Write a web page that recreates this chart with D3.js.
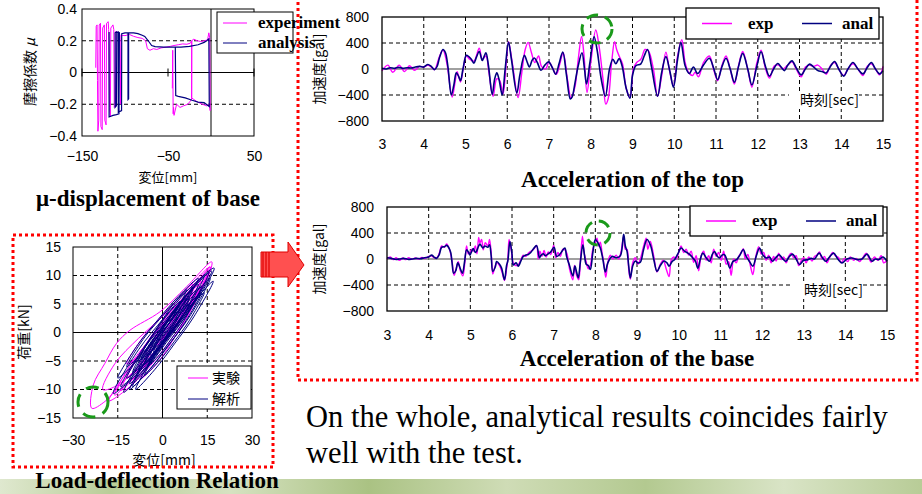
<!DOCTYPE html>
<html>
<head>
<meta charset="utf-8">
<script src="https://cdn.jsdelivr.net/npm/d3@7"></script>
<style>
  body { margin: 0; background: #fff; }
  svg { display: block; }
</style>
</head>
<body>
<script>
// ---------- data ----------
// friction coefficient vs base displacement [mm, mu]
const muExp = [
  [-134,0.03],[-133.5,0.29],[-132.5,0.3],[-132,-0.05],[-131.5,-0.37],[-130.5,-0.3],[-130,0.3],[-128.5,0.31],
  [-128,-0.34],[-126.5,-0.36],[-126,0.28],[-124,0.3],[-123.5,-0.3],[-122,-0.33],[-121.5,0.31],[-119.5,0.32],
  [-119,0.27],[-118,-0.22],[-117,-0.28],[-116.5,0.28],[-114,0.3],[-113,0.27],[-112.5,-0.22],[-111,-0.21],
  [-110.5,0.26],[-108,0.25],[-106,0.24],[-105,-0.2],[-104.5,0.235],[-100,0.232],[-95,0.24],[-90,0.228],
  [-85,0.22],[-80,0.215],[-76,0.2],[-74,0.15],[-71,0.14],[-67,0.15],[-63,0.145],[-58,0.155],[-52,0.16],
  [-47,0.165],[-43,0.17],[-38,0.175],[-33,0.18],[-28,0.178],[-24,0.185],[-22.5,0.2],[-20,0.21],[-16,0.2],
  [-12,0.195],[-8,0.2],[-4,0.205],[-2.5,0.25],[-1.5,0.22],[-1,-0.24],[-2,-0.2],[-5,-0.21],[-10,-0.2],
  [-16,-0.185],[-20,-0.17],[-22.4,-0.16],[-22.4,0.2],[-22.6,-0.17],[-27,-0.2],[-32,-0.21],[-36,-0.22],
  [-40,-0.2],[-43,-0.27],[-43.5,-0.22],[-44,-0.26],[-44.5,0.14],[-45,-0.1]
];
const muAnal = [
  [-118.5,0.255],[-118.5,-0.28],[-114,-0.27],[-110,-0.265],[-107,-0.26],[-106.5,0.25],[-110,0.255],
  [-111.5,0.25],[-111.5,-0.22],[-110,-0.21],[-109.5,0.25],[-107.8,0.255],[-107.8,-0.25],[-104,-0.24],
  [-103.8,0.245],[-100,0.25],[-96.5,0.25],[-96.5,-0.17],[-95.8,-0.165],[-95.8,0.25],[-90,0.25],[-85,0.245],
  [-80,0.235],[-77,0.227],[-73,0.2],[-69,0.17],[-65,0.163],[-55,0.16],[-45,0.16],[-35,0.16],[-25,0.165],
  [-15,0.175],[-8,0.19],[-5,0.2],[-2.5,0.212],[-2,-0.214],[-8,-0.19],[-15,-0.187],[-22,-0.175],[-30,-0.16],
  [-38,-0.15],[-41,-0.145],[-41.5,0.16]
];
const muXTicks = [-150, -50, 50];
const muYTicks = [-0.4, -0.2, 0, 0.2, 0.4];

// load-deflection loops [mm, kN]
const loadExp = [
  [[-23.7,-13.3],[-23.2,-9.2],[-19.3,-5.4],[-15.4,-1.9],[-10.9,0.4],[-0.8,3.65],[8,8],[16.5,12.4],[15,9.5],[8,4.5],[0,-1],[-8,-6],[-14.2,-9.2],[-19.3,-12.1]],
  [[-20,-10],[-16,-5.5],[-8,-1],[0,2.8],[8,7.5],[16,11.5],[13,7.5],[6,3],[-2,-2],[-10,-7],[-16,-9.5]],
  [[-14,-10.2],[-8,-4],[0,2],[7.5,6.5],[15.5,11],[9,4.5],[1,-1.5],[-7,-6.5]],
  [[-12,-8],[-6,-2.6],[0.5,1.8],[7,5.8],[13,9.5],[7,3.3],[0.5,-1.6],[-6,-5.5]],
  [[-9,-7],[-4,-2.2],[1,1.6],[6,5],[11,8.5],[6,2.8],[1,-1],[-4,-4.6]],
  [[-6,-5],[-2.5,-1.2],[1,1.3],[4.5,3.8],[8,6],[4.5,2],[1,-0.6],[-2.5,-3.2]],
  [[-16,-11],[-10,-5],[-2,0],[5,4.5],[12,7],[6,2],[-2,-3.5],[-10,-8]],
  [[-10,-9],[-4,-3.3],[2.5,1.5],[9,6],[15,10],[9,3.5],[2.5,-1.5],[-4,-5.8]],
  [[-12,-5.5],[-6.5,-0.8],[-1,2.5],[4.5,5.5],[10,8.5],[4.5,3.2],[-1,-0.5],[-6.5,-3.5]],
  [[-7,-8],[-1.5,-2.6],[4.5,2.8],[10,7.5],[16,11.5],[10,4.4],[4.5,-0.5],[-1.5,-5.2]],
  [[-18,-12],[-10,-5.5],[-2,0.5],[6,5.5],[14,9],[6,2.5],[-2,-3],[-10,-9]]
];
const loadAnal = [
  [[-16.5,-10.7],[-8,-3],[0.4,2.5],[8.8,7.6],[17.3,11.3],[8.8,3.6],[0.4,-1.9],[-8,-7]],
  [[-13,-10.5],[-5.9,-3.4],[1.2,1.8],[8.4,6.7],[15.5,10.5],[8.4,3.4],[1.2,-1.8],[-5.9,-6.7]],
  [[-11,-9],[-4.75,-2.65],[1.5,2.1],[7.75,6.5],[14,10],[7.75,3.65],[1.5,-1.1],[-4.75,-5.5]],
  [[-9,-8],[-3.75,-2.4],[1.5,1.75],[6.75,5.6],[12,8.5],[6.75,2.9],[1.5,-1.25],[-3.75,-5.1]],
  [[-8,-6.5],[-3.5,-1.7],[1,1.8],[5.5,5],[10,7.5],[5.5,2.7],[1,-0.8],[-3.5,-4]],
  [[-6,-5.5],[-2.5,-1.4],[1,1.45],[4.5,4.1],[8,6],[4.5,1.9],[1,-0.95],[-2.5,-3.6]],
  [[-12,-8],[-5.75,-2.5],[0.5,1.5],[6.75,5.2],[13,8],[6.75,2.5],[0.5,-1.5],[-5.75,-5.2]],
  [[-10,-9.5],[-3.5,-3.15],[3,1.6],[9.5,6],[16,9.5],[9.5,3.15],[3,-1.6],[-3.5,-6]],
  [[-4,-4],[-1.5,-0.9],[1,1.25],[3.5,3.2],[6,4.5],[3.5,1.4],[1,-0.75],[-1.5,-2.7]],
  [[-7,-4.5],[-3,-1],[1,1.35],[5,3.5],[9,5],[5,1.5],[1,-0.85],[-3,-3]],
  [[-14,-9.5],[-6.4,-2.7],[1.25,2.35],[8.9,7.1],[16.5,10.8],[8.9,4],[1.25,-1.05],[-6.4,-5.8]],
  [[-15,-8],[-8.25,-2.1],[-1.5,2.25],[5.25,6.3],[12,9.5],[5.25,3.6],[-1.5,-0.75],[-8.25,-4.8]],
  [[-9,-10],[-2.5,-3.75],[4,1],[10.5,5.45],[17,9],[10.5,2.75],[4,-2],[-2.5,-6.45]],
  [[-12,-6],[-6.5,-1.2],[-1,2.3],[4.5,5.5],[10,8],[4.5,3.2],[-1,-0.3],[-6.5,-3.5]],
  [[-6,-7.5],[-1,-2.6],[4,1.05],[9,4.4],[14,7],[9,2.1],[4,-1.55],[-1,-4.9]],
  [[-10,-7],[-5.5,-2.2],[-1,1.45],[3.5,4.9],[8,7.5],[3.5,2.7],[-1,-0.95],[-5.5,-4.4]],
  [[-5,-6],[-1,-1.9],[3,1.1],[7,3.9],[11,6],[7,1.9],[3,-1.1],[-1,-3.9]],
  [[-8,-5],[-4.5,-1.4],[-1,1.25],[2.5,3.7],[6,5.5],[2.5,1.9],[-1,-0.75],[-4.5,-3.2]],
  [[-3,-3.5],[0,-0.1],[3,2.25],[6,4.4],[9,6],[6,2.6],[3,0.25],[0,-1.9]],
  [[-11,-10],[-5,-4.35],[1,-0.1],[7,3.9],[13,7],[7,1.35],[1,-2.9],[-5,-6.9]]
];
const loadXTicks = [-30, -15, 0, 15, 30];
const loadYTicks = [-15, -10, -5, 0, 5, 10, 15];

// acceleration of the top [sec, gal]
const topExp = [
  [3,-30],[3.14,60],[3.26,-50],[3.41,60],[3.54,-40],[3.66,50],[3.78,-20],[3.9,40],[4,30],[4.1,60],[4.2,20],
  [4.26,-10],[4.38,200],[4.46,290],[4.55,100],[4.68,-430],[4.75,-200],[4.8,-40],[4.88,-200],[4.95,20],
  [5.02,200],[5.1,150],[5.2,120],[5.33,320],[5.4,150],[5.49,200],[5.56,-50],[5.66,-420],[5.75,-150],
  [5.82,-180],[5.9,-380],[5.97,50],[6.03,420],[6.12,100],[6.26,-440],[6.35,-50],[6.43,300],[6.5,410],
  [6.58,250],[6.66,100],[6.75,200],[6.82,40],[6.92,0],[7,110],[7.08,20],[7.18,-80],[7.26,80],[7.34,250],
  [7.44,-150],[7.53,-450],[7.62,-280],[7.7,150],[7.78,500],[7.84,200],[7.91,-360],[8,100],[8.12,600],
  [8.2,350],[8.3,-200],[8.36,-540],[8.42,-450],[8.5,100],[8.57,420],[8.62,300],[8.68,200],[8.76,80],
  [8.85,-300],[8.94,-440],[9.02,0],[9.1,100],[9.2,150],[9.3,300],[9.38,280],[9.5,0],[9.6,-420],[9.7,-100],
  [9.8,260],[9.88,0],[9.98,-260],[10.08,200],[10.18,450],[10.26,100],[10.34,-50],[10.44,-100],[10.5,-50],
  [10.58,-120],[10.7,100],[10.84,200],[10.94,0],[11.04,-180],[11.14,50],[11.24,200],[11.34,0],[11.44,-230],
  [11.54,50],[11.64,270],[11.76,0],[11.86,-280],[11.98,100],[12.08,290],[12.18,20],[12.28,-140],[12.4,50],
  [12.5,60],[12.6,0],[12.7,50],[12.82,110],[12.92,0],[13.04,-120],[13.14,30],[13.24,60],[13.34,40],
  [13.44,60],[13.54,0],[13.64,-80],[13.74,50],[13.84,100],[13.94,0],[14.06,-100],[14.16,0],[14.28,80],
  [14.4,0],[14.52,-100],[14.62,40],[14.72,80],[14.82,0],[14.92,-90],[15,40]
];
const topAnal = [
  [3,10],[3.1,0],[3.2,20],[3.3,10],[3.4,25],[3.5,10],[3.6,20],[3.7,15],[3.8,30],[3.9,40],[4,30],[4.1,70],
  [4.18,40],[4.26,-10],[4.32,40],[4.38,180],[4.46,300],[4.52,250],[4.58,30],[4.66,-400],[4.72,-250],
  [4.78,-60],[4.84,-120],[4.88,-180],[4.94,0],[5.02,210],[5.08,190],[5.14,150],[5.2,90],[5.26,180],
  [5.33,270],[5.4,130],[5.45,200],[5.49,250],[5.55,50],[5.64,-390],[5.7,-150],[5.75,-60],[5.8,-150],
  [5.88,-400],[5.95,0],[6.03,410],[6.1,150],[6.23,-370],[6.3,-100],[6.41,210],[6.47,120],[6.53,30],
  [6.6,140],[6.65,170],[6.72,100],[6.81,-20],[6.9,60],[6.99,110],[7.08,20],[7.16,-80],[7.24,80],[7.33,260],
  [7.42,-100],[7.51,-460],[7.56,-420],[7.61,-260],[7.7,50],[7.79,250],[7.85,0],[7.9,-230],[7.98,100],
  [8.08,495],[8.15,300],[8.25,-150],[8.35,-420],[8.45,0],[8.53,150],[8.6,80],[8.68,160],[8.75,50],
  [8.85,-300],[8.94,-450],[9,-100],[9.08,50],[9.2,80],[9.28,200],[9.36,300],[9.45,50],[9.6,-420],[9.7,-50],
  [9.8,190],[9.9,-50],[9.98,-280],[10.08,150],[10.16,410],[10.26,50],[10.36,-70],[10.46,30],[10.56,-70],
  [10.7,60],[10.84,165],[10.94,20],[11.04,-165],[11.14,30],[11.24,165],[11.34,0],[11.44,-205],[11.54,40],
  [11.64,240],[11.76,0],[11.86,-245],[11.98,50],[12.08,265],[12.18,50],[12.28,-110],[12.38,0],[12.48,85],
  [12.56,30],[12.64,-25],[12.72,60],[12.82,125],[12.92,20],[13.04,-90],[13.14,0],[13.24,75],[13.34,30],
  [13.44,-25],[13.54,-40],[13.64,-60],[13.74,40],[13.84,115],[13.94,0],[14.06,-110],[14.16,0],[14.28,100],
  [14.4,0],[14.52,-75],[14.62,20],[14.72,100],[14.82,0],[14.92,-75],[15,-25]
];

// acceleration of the base [sec, gal]
const baseExp = [
  [3,0],[3.08,30],[3.15,-10],[3.22,20],[3.3,-20],[3.38,15],[3.45,-10],[3.52,20],[3.6,-5],[3.68,15],[3.76,0],
  [3.84,25],[3.92,10],[4,40],[4.07,50],[4.13,20],[4.2,20],[4.26,100],[4.31,200],[4.38,180],[4.43,230],
  [4.5,150],[4.56,-30],[4.61,-250],[4.66,-150],[4.71,-40],[4.76,-180],[4.82,-260],[4.87,-40],[4.91,200],
  [4.95,80],[4.99,100],[5.04,150],[5.07,120],[5.12,200],[5.16,80],[5.2,330],[5.23,250],[5.27,300],
  [5.31,140],[5.36,250],[5.42,200],[5.46,300],[5.5,100],[5.54,-230],[5.6,-100],[5.64,-60],[5.7,-100],
  [5.76,-200],[5.82,-330],[5.87,-150],[5.9,0],[5.93,300],[5.98,150],[6.03,-60],[6.09,-100],[6.15,-90],
  [6.22,0],[6.27,60],[6.33,40],[6.39,90],[6.45,120],[6.52,150],[6.59,210],[6.63,0],[6.67,120],[6.72,40],
  [6.77,130],[6.82,30],[6.87,110],[6.93,70],[7,210],[7.05,20],[7.1,100],[7.16,40],[7.22,150],[7.27,140],
  [7.32,80],[7.38,-150],[7.46,-320],[7.5,-100],[7.55,-250],[7.6,-320],[7.64,-50],[7.69,350],[7.73,100],
  [7.78,-40],[7.83,-150],[7.88,-100],[7.94,150],[8,260],[8.04,320],[8.08,200],[8.12,260],[8.16,100],
  [8.2,-50],[8.25,-280],[8.3,-50],[8.36,60],[8.42,0],[8.5,60],[8.56,0],[8.62,120],[8.68,350],[8.72,150],
  [8.76,150],[8.8,-150],[8.84,-310],[8.9,-50],[8.96,20],[9.02,-80],[9.08,0],[9.16,200],[9.22,320],
  [9.26,150],[9.32,270],[9.4,50],[9.48,-200],[9.56,-80],[9.63,-20],[9.7,-150],[9.77,-270],[9.82,-20],
  [9.88,30],[9.94,0],[10,100],[10.06,200],[10.12,100],[10.18,150],[10.24,60],[10.3,120],[10.36,-50],
  [10.42,50],[10.48,-180],[10.54,50],[10.6,120],[10.66,-20],[10.72,50],[10.78,-60],[10.84,150],[10.9,40],
  [10.96,100],[11.02,-20],[11.08,120],[11.14,-80],[11.2,-40],[11.26,-250],[11.32,0],[11.38,-60],[11.44,40],
  [11.5,100],[11.55,160],[11.6,0],[11.66,70],[11.72,-100],[11.78,-240],[11.84,0],[11.92,190],[11.98,80],
  [12.04,100],[12.1,-20],[12.16,60],[12.22,-60],[12.28,40],[12.34,-30],[12.4,90],[12.46,-10],[12.52,30],
  [12.58,-60],[12.64,40],[12.7,90],[12.76,20],[12.82,50],[12.88,-100],[12.94,-30],[13,20],[13.06,-60],
  [13.12,30],[13.2,-30],[13.26,40],[13.32,60],[13.38,110],[13.44,0],[13.5,40],[13.56,-60],[13.62,20],
  [13.7,100],[13.76,50],[13.84,20],[13.9,-60],[13.98,10],[14.06,-40],[14.12,30],[14.2,-20],[14.26,10],
  [14.34,-40],[14.42,20],[14.5,90],[14.56,20],[14.62,-50],[14.7,30],[14.78,-20],[14.86,50],[14.92,-60],[15,-20]
];
const baseAnal = [
  [3,20],[3.1,10],[3.2,-5],[3.3,0],[3.4,10],[3.5,-5],[3.6,0],[3.7,10],[3.8,5],[3.9,20],[4,30],[4.07,60],
  [4.13,30],[4.19,10],[4.25,60],[4.31,180],[4.38,190],[4.43,210],[4.52,120],[4.56,-50],[4.6,-220],
  [4.65,-180],[4.7,-60],[4.76,-150],[4.81,-220],[4.86,-50],[4.91,140],[4.96,100],[4.99,60],[5.04,130],
  [5.07,160],[5.12,100],[5.15,120],[5.2,200],[5.23,230],[5.3,170],[5.35,200],[5.42,180],[5.46,220],
  [5.5,50],[5.54,-190],[5.6,-120],[5.63,-40],[5.7,-80],[5.75,-140],[5.82,-320],[5.87,-100],[5.9,-30],
  [5.95,270],[6,80],[6.03,-90],[6.1,-60],[6.15,-110],[6.22,-20],[6.27,40],[6.33,60],[6.39,70],[6.45,100],
  [6.52,160],[6.59,205],[6.66,20],[6.7,60],[6.75,80],[6.8,50],[6.87,80],[6.93,110],[7.01,180],[7.07,40],
  [7.13,60],[7.2,120],[7.27,170],[7.31,40],[7.38,-100],[7.46,-260],[7.51,-110],[7.55,-200],[7.59,-290],
  [7.64,-50],[7.7,220],[7.74,60],[7.78,-80],[7.83,-100],[7.88,-160],[7.94,100],[8,300],[8.06,250],
  [8.12,170],[8.18,0],[8.24,-200],[8.3,-60],[8.4,40],[8.5,20],[8.6,50],[8.68,380],[8.72,200],[8.76,120],
  [8.8,-100],[8.84,-290],[8.9,-100],[8.96,-30],[9.02,-60],[9.08,-50],[9.16,150],[9.24,300],[9.32,220],
  [9.4,0],[9.48,-190],[9.56,-100],[9.65,-30],[9.72,-60],[9.77,-110],[9.84,-40],[9.9,-10],[9.98,80],
  [10.06,170],[10.14,120],[10.22,90],[10.28,60],[10.34,15],[10.4,-30],[10.46,-140],[10.52,0],[10.58,90],
  [10.66,20],[10.74,-35],[10.8,60],[10.86,115],[10.92,50],[10.98,15],[11.04,60],[11.1,65],[11.16,-20],
  [11.23,-140],[11.3,-40],[11.39,-10],[11.47,60],[11.55,145],[11.62,40],[11.67,-10],[11.72,-60],
  [11.78,-110],[11.86,40],[11.94,170],[12.02,60],[12.1,15],[12.18,30],[12.25,-35],[12.33,20],[12.41,65],
  [12.49,10],[12.57,-35],[12.65,30],[12.73,75],[12.82,0],[12.9,-85],[13,-20],[13.1,-10],[13.18,10],
  [13.26,0],[13.37,90],[13.45,20],[13.53,-35],[13.62,30],[13.72,90],[13.82,0],[13.92,-60],[14.04,0],
  [14.16,15],[14.28,-10],[14.4,0],[14.52,75],[14.64,-35],[14.72,0],[14.8,-10],[14.9,30],[15,-35]
];
const timeTicks = [3,4,5,6,7,8,9,10,11,12,13,14,15];
const accTicks = [-800,-400,0,400,800];

const MAG = "#ff00ff", NAVY = "#000080";
const SANS = "'Liberation Sans', Arial, sans-serif";
const JP = "'Noto Sans CJK JP', sans-serif";
const SERIF = "'Liberation Serif', 'Times New Roman', serif";
const fmt = d => (d < 0 ? "\u2212" + Math.abs(d) : String(d));

const svg = d3.select("body").append("svg").attr("width", 922).attr("height", 494);

// grass strip at the bottom of the slide
const grad = svg.append("defs").append("linearGradient").attr("id", "grass");
[["0%","#dfe8cf"],["12%","#b9cd98"],["25%","#d6e2c1"],["40%","#aac283"],["55%","#cfdcb6"],
 ["70%","#b3c990"],["85%","#d9e4c6"],["100%","#b8cc97"]].forEach(([o, c]) =>
  grad.append("stop").attr("offset", o).attr("stop-color", c));
svg.append("rect").attr("x", 0).attr("y", 479).attr("width", 922).attr("height", 15).attr("fill", "url(#grass)");

function styleAxis(g, size, family) {
  g.select(".domain").remove();
  g.selectAll("text").attr("font-family", family || SANS).attr("font-size", size).attr("fill", "#000");
}

function dashedGrid(g, x, y, xs, ys, x0, x1, y0, y1) {
  g.selectAll(null).data(xs).join("line")
    .attr("x1", d => x(d)).attr("x2", d => x(d)).attr("y1", y0).attr("y2", y1)
    .attr("stroke", "#000").attr("stroke-dasharray", "4,3");
  g.selectAll(null).data(ys).join("line")
    .attr("x1", x0).attr("x2", x1).attr("y1", d => y(d)).attr("y2", d => y(d))
    .attr("stroke", "#000").attr("stroke-dasharray", "4,3");
}

/******************** mu - displacement ********************/
{
  const x0 = 82, x1 = 254, y0 = 9, y1 = 136;
  const x = d3.scaleLinear().domain([-150, 50]).range([x0, x1]);
  const y = d3.scaleLinear().domain([-0.4, 0.4]).range([y1, y0]);
  const g = svg.append("g");
  dashedGrid(g, x, y, [], [-0.2, 0.2], x0, x1);
  g.append("line").attr("x1", x0).attr("x2", x1).attr("y1", y(0)).attr("y2", y(0)).attr("stroke", "#000");
  g.append("line").attr("x1", x(0)).attr("x2", x(0)).attr("y1", y0).attr("y2", y1).attr("stroke", "#000");
  g.selectAll(null).data(muXTicks).join("line")
    .attr("x1", d => x(d)).attr("x2", d => x(d)).attr("y1", y(0) - 4).attr("y2", y(0) + 4).attr("stroke", "#000");
  const line = d3.line().x(d => x(d[0])).y(d => y(d[1]));
  g.append("path").attr("d", line(muExp)).attr("fill", "none").attr("stroke", MAG).attr("stroke-width", 1);
  g.append("path").attr("d", line(muAnal)).attr("fill", "none").attr("stroke", NAVY).attr("stroke-width", 1.2);
  g.append("rect").attr("x", x0).attr("y", y0).attr("width", x1 - x0).attr("height", y1 - y0)
    .attr("fill", "none").attr("stroke", "#000");
  styleAxis(g.append("g").attr("transform", `translate(${x0},0)`)
    .call(d3.axisLeft(y).tickValues(muYTicks).tickSize(0).tickPadding(5).tickFormat(d => d === 0 ? "0" : fmt(d))), 14);
  styleAxis(g.append("g").attr("transform", `translate(0,${y1})`)
    .call(d3.axisBottom(x).tickValues(muXTicks).tickSize(0).tickPadding(15).tickFormat(fmt)), 14);
  g.append("text").attr("x", 168).attr("y", 182).attr("text-anchor", "middle")
    .attr("font-family", JP).attr("font-size", 13).text("変位[mm]");
  const yl = g.append("text").attr("transform", "translate(35,72) rotate(-90)").attr("text-anchor", "middle")
    .attr("font-family", JP).attr("font-size", 14);
  yl.append("tspan").text("摩擦係数 ");
  yl.append("tspan").attr("font-style", "italic").text("μ");
  // legend
  g.append("rect").attr("x", 217).attr("y", 12).attr("width", 76).attr("height", 41)
    .attr("fill", "#fff").attr("stroke", "#000");
  [["experiment", MAG, 23], ["analysis", NAVY, 43]].forEach(([t, c, yy]) => {
    g.append("line").attr("x1", 223).attr("x2", 247).attr("y1", yy).attr("y2", yy).attr("stroke", c);
    g.append("text").attr("x", 258).attr("y", yy + 5).attr("font-family", SERIF).attr("font-weight", "bold")
      .attr("font-size", 17).text(t);
  });
  g.append("text").attr("x", 148).attr("y", 206).attr("text-anchor", "middle").attr("font-family", SERIF)
    .attr("font-weight", "bold").attr("font-size", 23).text("μ-displacement of base");
}

/******************** load - deflection ********************/
{
  const x0 = 73, x1 = 252, y0 = 247, y1 = 418;
  const x = d3.scaleLinear().domain([-30, 30]).range([x0, x1]);
  const y = d3.scaleLinear().domain([-15, 15]).range([y1, y0]);
  const g = svg.append("g");
  dashedGrid(g, x, y, [-15, 15], [-10, -5, 5, 10], x0, x1, y0, y1);
  g.append("line").attr("x1", x0).attr("x2", x1).attr("y1", y(0)).attr("y2", y(0)).attr("stroke", "#000");
  g.append("line").attr("x1", x(0)).attr("x2", x(0)).attr("y1", y0).attr("y2", y1).attr("stroke", "#000");
  const loop = d3.line().x(d => x(d[0])).y(d => y(d[1])).curve(d3.curveCatmullRomClosed);
  g.selectAll(null).data(loadExp).join("path").attr("d", loop)
    .attr("fill", "none").attr("stroke", MAG).attr("stroke-width", 1);
  g.selectAll(null).data(loadAnal).join("path").attr("d", loop)
    .attr("fill", "none").attr("stroke", NAVY).attr("stroke-width", 1);
  g.append("rect").attr("x", x0).attr("y", y0).attr("width", x1 - x0).attr("height", y1 - y0)
    .attr("fill", "none").attr("stroke", "#000");
  styleAxis(g.append("g").attr("transform", `translate(${x0},0)`)
    .call(d3.axisLeft(y).tickValues(loadYTicks).tickSize(0).tickPadding(12).tickFormat(fmt)), 14);
  styleAxis(g.append("g").attr("transform", `translate(0,${y1})`)
    .call(d3.axisBottom(x).tickValues(loadXTicks).tickSize(0).tickPadding(17).tickFormat(fmt)), 14);
  g.append("text").attr("x", 164).attr("y", 465).attr("text-anchor", "middle")
    .attr("font-family", JP).attr("font-size", 14).text("変位[mm]");
  g.append("text").attr("transform", "translate(29,332) rotate(-90)").attr("text-anchor", "middle")
    .attr("font-family", JP).attr("font-size", 14).text("荷重[kN]");
  g.append("rect").attr("x", 177).attr("y", 366).attr("width", 74).attr("height", 43)
    .attr("fill", "#fff").attr("stroke", "#000");
  [["実験", MAG, 378], ["解析", NAVY, 399]].forEach(([t, c, yy]) => {
    g.append("line").attr("x1", 188).attr("x2", 208).attr("y1", yy).attr("y2", yy).attr("stroke", c);
    g.append("text").attr("x", 212).attr("y", yy + 5).attr("font-family", JP).attr("font-size", 14).text(t);
  });
  g.append("ellipse").attr("cx", 93).attr("cy", 402).attr("rx", 15).attr("ry", 15)
    .attr("fill", "none").attr("stroke", "#1a9a1a").attr("stroke-width", 3).attr("stroke-dasharray", "13,8");
  g.append("text").attr("x", 157).attr("y", 488).attr("text-anchor", "middle").attr("font-family", SERIF)
    .attr("font-weight", "bold").attr("font-size", 23).text("Load-deflection Relation");
}

/******************** acceleration time histories ********************/
function accChart({ x0, x1, y0, y1, exp, anal, pad, legY, legH, title, titleY, circle }) {
  const x = d3.scaleLinear().domain([3, 15]).range([x0, x1]);
  const y = d3.scaleLinear().domain([-800, 800]).range([y1, y0]);
  const g = svg.append("g");
  dashedGrid(g, x, y, timeTicks.slice(1, -1), [-400, 400], x0, x1, y0, y1);
  // time label sits on the -400 grid line
  g.append("rect").attr("x", x1 - 94).attr("y", y1 - 30).attr("width", 70).attr("height", 18).attr("fill", "#fff");
  g.append("text").attr("x", x1 - 24).attr("y", y1 - 16).attr("text-anchor", "end")
    .attr("font-family", JP).attr("font-size", 14).text("時刻[sec]");
  g.append("line").attr("x1", x0).attr("x2", x1).attr("y1", y(0)).attr("y2", y(0))
    .attr("stroke", "#808080").attr("stroke-width", 1.5);
  const line = d3.line().x(d => x(d[0])).y(d => y(d[1])).curve(d3.curveCatmullRom);
  g.append("path").attr("d", line(exp)).attr("fill", "none").attr("stroke", MAG).attr("stroke-width", 1.4);
  g.append("path").attr("d", line(anal)).attr("fill", "none").attr("stroke", NAVY).attr("stroke-width", 1.6);
  g.append("rect").attr("x", x0).attr("y", y0).attr("width", x1 - x0).attr("height", y1 - y0)
    .attr("fill", "none").attr("stroke", "#000").attr("stroke-width", 1.3);
  styleAxis(g.append("g").attr("transform", `translate(${x0},0)`)
    .call(d3.axisLeft(y).tickValues(accTicks).tickSize(0).tickPadding(13).tickFormat(fmt)), 14);
  styleAxis(g.append("g").attr("transform", `translate(0,${y1})`)
    .call(d3.axisBottom(x).tickValues(timeTicks).tickSize(0).tickPadding(pad)), 14);
  g.append("text").attr("transform", `translate(324,${y(0)}) rotate(-90)`).attr("text-anchor", "middle")
    .attr("font-family", JP).attr("font-size", 14).text("加速度[gal]");
  // legend
  const lx = x1 - 197;
  g.append("rect").attr("x", lx).attr("y", legY).attr("width", 193).attr("height", legH)
    .attr("fill", "#fff").attr("stroke", "#000").attr("stroke-width", 1.3);
  const cy = legY + legH / 2;
  [["exp", MAG, 16, 62], ["anal", NAVY, 116, 156]].forEach(([t, c, a, b]) => {
    g.append("line").attr("x1", lx + a).attr("x2", lx + a + 30).attr("y1", cy).attr("y2", cy)
      .attr("stroke", c).attr("stroke-width", 1.5);
    g.append("text").attr("x", lx + b).attr("y", cy + 5).attr("font-family", SERIF).attr("font-weight", "bold")
      .attr("font-size", 17).text(t);
  });
  g.append("ellipse").attr("cx", circle[0]).attr("cy", circle[1]).attr("rx", circle[2]).attr("ry", circle[3])
    .attr("fill", "none").attr("stroke", "#1a9a1a").attr("stroke-width", 3).attr("stroke-dasharray", "12,7");
  g.append("text").attr("x", (x0 + x1) / 2).attr("y", titleY).attr("text-anchor", "middle")
    .attr("font-family", SERIF).attr("font-weight", "bold").attr("font-size", 23).text(title);
}

accChart({ x0: 382, x1: 883, y0: 17, y1: 121, exp: topExp, anal: topAnal, pad: 18, legY: 8, legH: 31,
  title: "Acceleration of the top", titleY: 187, circle: [597, 29, 15, 14] });
accChart({ x0: 387, x1: 887, y0: 207, y1: 311, exp: baseExp, anal: baseAnal, pad: 19, legY: 206, legH: 30,
  title: "Acceleration of the base", titleY: 366, circle: [598, 233, 12, 12] });

/******************** slide decorations ********************/
svg.append("rect").attr("x", 13).attr("y", 235).attr("width", 260).attr("height", 232)
  .attr("fill", "none").attr("stroke", "#ff0000").attr("stroke-width", 3).attr("stroke-dasharray", "3,3");
svg.append("path").attr("d", "M298,-4V380H917V-4")
  .attr("fill", "none").attr("stroke", "#ff0000").attr("stroke-width", 3).attr("stroke-dasharray", "3,3");

svg.append("polygon").attr("points", "261,252 288,252 288,242 304,265 288,287 288,277 261,277")
  .attr("fill", "#ff5050").attr("stroke", "#e00000").attr("stroke-width", 1);
[263, 266, 269].forEach(xx => svg.append("line").attr("x1", xx).attr("x2", xx).attr("y1", 252).attr("y2", 277)
  .attr("stroke", "#e00000").attr("stroke-width", 1.2));

const para = svg.append("text").attr("font-family", SERIF).attr("font-size", 30.5).attr("fill", "#000");
para.append("tspan").attr("x", 306).attr("y", 427).text("On the whole, analytical results coincides fairly");
para.append("tspan").attr("x", 306).attr("y", 463).text("well with the test.");
</script>
</body>
</html>
